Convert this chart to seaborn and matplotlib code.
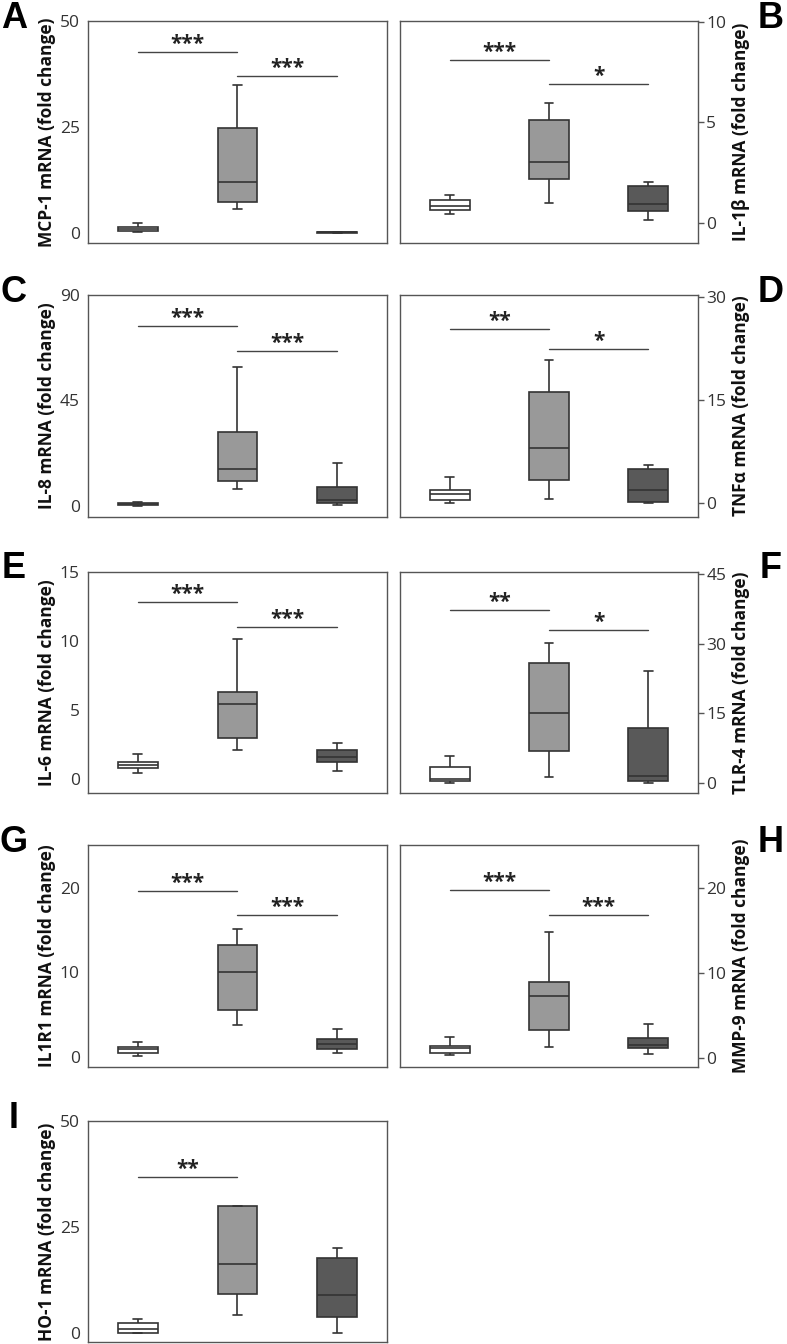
import numpy as np
import pandas as pd
import matplotlib
matplotlib.use("Agg")
import matplotlib.pyplot as plt
import seaborn as sns

sns.set_style("white")
plt.rcParams["font.family"] = ["Open Sans", "DejaVu Sans"]

# ---------------- data: five-number summaries [min, q1, median, q3, max] ----------------
groups = ["Control", "Stimulated", "Treated"]
palette = ["#ffffff", "#999999", "#595959"]

a_ctrl = [0.2, 0.55, 0.95, 1.55, 2.35]
a_mid = [5.6, 7.4, 12.0, 24.8, 35.0]
a_trt = [0.05, 0.1, 0.2, 0.3, 0.35]

b_ctrl = [0.46, 0.66, 0.85, 1.13, 1.38]
b_mid = [1.0, 2.2, 3.02, 5.1, 5.97]
b_trt = [0.15, 0.6, 0.96, 1.84, 2.02]

c_ctrl = [0.0, 0.2, 0.6, 1.2, 1.5]
c_mid = [7.0, 10.7, 15.8, 31.3, 59.4]
c_trt = [0.3, 1.0, 2.4, 8.1, 18.2]

d_ctrl = [0.0, 0.53, 1.31, 1.94, 3.82]
d_mid = [0.58, 3.39, 8.08, 16.2, 20.8]
d_trt = [0.05, 0.19, 1.89, 4.98, 5.56]

e_ctrl = [0.41, 0.80, 0.99, 1.23, 1.79]
e_mid = [2.08, 2.95, 5.43, 6.26, 10.12]
e_trt = [0.56, 1.21, 1.57, 2.08, 2.61]

f_ctrl = [0.0, 0.36, 0.72, 3.38, 5.75]
f_mid = [1.22, 6.9, 15.1, 25.9, 30.1]
f_trt = [0.0, 0.43, 1.51, 11.9, 24.2]

g_ctrl = [0.12, 0.51, 0.91, 1.15, 1.74]
g_mid = [3.75, 5.57, 10.1, 13.3, 15.1]
g_trt = [0.51, 0.91, 1.5, 2.17, 3.36]

h_ctrl = [0.39, 0.59, 1.18, 1.45, 2.51]
h_mid = [1.37, 3.33, 7.33, 8.9, 14.8]
h_trt = [0.55, 1.18, 1.57, 2.35, 4.08]

i_ctrl = [0.0, 0.08, 1.02, 2.28, 3.39]
i_mid = [4.33, 9.3, 16.4, 29.9, 29.9]
i_trt = [0.0, 3.78, 9.0, 17.6, 20.0]

letters = ["A", "B", "C", "D", "E", "F", "G", "H", "I"]
ylabels = ["MCP-1 mRNA (fold change)", "IL-1β mRNA (fold change)",
           "IL-8 mRNA (fold change)", "TNFα mRNA (fold change)",
           "IL-6 mRNA (fold change)", "TLR-4 mRNA (fold change)",
           "IL1R1 mRNA (fold change)", "MMP-9 mRNA (fold change)",
           "HO-1 mRNA (fold change)"]
yticks = [[0, 25, 50], [0, 5, 10], [0, 45, 90], [0, 15, 30], [0, 5, 10, 15],
          [0, 15, 30, 45], [0, 10, 20], [0, 10, 20], [0, 25, 50]]
ylims = [(-2.3, 50), (-1.0, 10.03), (-4.8, 90), (-2.0, 30.25), (-1.04, 15),
         (-2.2, 45.5), (-1.2, 25.1), (-1.0, 25.0), (-2.1, 50)]
# significance brackets: (from group, to group, y value, label)
sig_a = [(0, 1, 42.8, "***"), (1, 2, 37.0, "***")]
sig_b = [(0, 1, 8.09, "***"), (1, 2, 6.88, "*")]
sig_c = [(0, 1, 76.8, "***"), (1, 2, 66.1, "***")]
sig_d = [(0, 1, 25.35, "**"), (1, 2, 22.35, "*")]
sig_e = [(0, 1, 12.85, "***"), (1, 2, 11.01, "***")]
sig_f = [(0, 1, 37.2, "**"), (1, 2, 32.9, "*")]
sig_g = [(0, 1, 19.7, "***"), (1, 2, 16.76, "***")]
sig_h = [(0, 1, 19.76, "***"), (1, 2, 16.8, "***")]
sig_i = [(0, 1, 36.7, "**")]

panels = [
    (a_ctrl, a_mid, a_trt, sig_a), (b_ctrl, b_mid, b_trt, sig_b),
    (c_ctrl, c_mid, c_trt, sig_c), (d_ctrl, d_mid, d_trt, sig_d),
    (e_ctrl, e_mid, e_trt, sig_e), (f_ctrl, f_mid, f_trt, sig_f),
    (g_ctrl, g_mid, g_trt, sig_g), (h_ctrl, h_mid, h_trt, sig_h),
    (i_ctrl, i_mid, i_trt, sig_i),
]

# ---------------- layout (pixels) ----------------
W, H = 787, 1344
fig = plt.figure(figsize=(W / 100, H / 100), dpi=100)
col_x = [(88, 387), (400, 698)]
row_y = [(21, 243), (295, 517), (572, 793), (845, 1067), (1121, 1342)]

edge = "#333333"
spine_c = "#555555"

for k, (ctrl, mid, trt, sigs) in enumerate(panels):
    r, c = divmod(k, 2)
    x0, x1 = col_x[c]
    y0, y1 = row_y[r]
    ax = fig.add_axes([x0 / W, 1 - y1 / H, (x1 - x0) / W, (y1 - y0) / H])
    df = pd.DataFrame({
        "group": np.repeat(groups, 5),
        "value": np.concatenate([ctrl, mid, trt]),
    })
    sns.boxplot(data=df, x="group", y="value", hue="group", order=groups,
                hue_order=groups, palette=palette, width=0.4, whis=(0, 100),
                linecolor=edge, linewidth=1.2, fliersize=0, legend=False,
                capwidths=0.09, ax=ax)
    ax.set_xlim(-0.5, 2.5)
    ax.set_ylim(*ylims[k])
    ax.set_yticks(yticks[k])
    ax.set_xticks([])
    ax.set_xlabel("")
    for s in ax.spines.values():
        s.set_visible(True)
        s.set_color(spine_c)
        s.set_linewidth(1.0)
    ax.tick_params(axis="y", direction="out", length=4, width=1.0,
                   color=spine_c, labelsize=12.5, labelcolor="#333333", pad=2)
    ax.set_ylabel(ylabels[k], fontsize=12.5, fontweight="bold", color="#111111")
    if c == 0:
        ax.yaxis.set_label_coords(-(88 - 56) / (x1 - x0), 0.5)
        fig.text(14 / W, 1 - (y0 - 3) / H, letters[k], fontsize=26,
                 fontweight="bold", family="Liberation Sans", color="black",
                 ha="center", va="center")
    else:
        ax.yaxis.tick_right()
        ax.yaxis.set_label_position("right")
        ax.yaxis.set_label_coords((732 - x0) / (x1 - x0), 0.5)
        fig.text(771 / W, 1 - (y0 - 3) / H, letters[k], fontsize=26,
                 fontweight="bold", family="Liberation Sans", color="black",
                 ha="center", va="center")
    for (g1, g2, yv, lab) in sigs:
        ax.plot([g1, g2], [yv, yv], color="#444444", lw=1.0)
        ax.annotate(lab, xy=((g1 + g2) / 2, yv), xytext=(0, 1.5),
                    textcoords="offset points", ha="center", va="baseline",
                    fontsize=15, fontweight="bold", color="#222222")

fig.savefig("out.png", dpi=100)
